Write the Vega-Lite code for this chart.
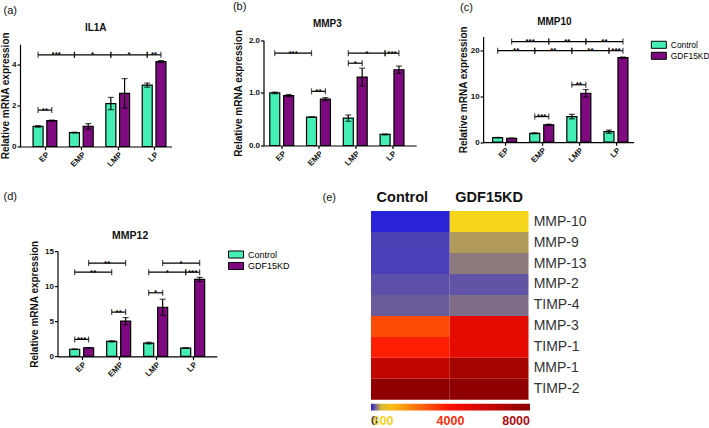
{
  "$schema": "https://vega.github.io/schema/vega-lite/v6.json",
  "padding": {"left": 0, "top": 0.5, "right": 0, "bottom": 0},
  "background": "white",
  "spacing": 20.6,
  "resolve": {"scale": {"color": "independent"}, "legend": {"color": "independent"}},
  "vconcat": [
    {
      "spacing": 60.5,
      "resolve": {"scale": {"color": "independent"}, "legend": {"color": "independent"}},
      "hconcat": [
        {
          "title": {"text": "(a)", "anchor": "start", "frame": "group", "dx": -16.5, "offset": 7.6, "fontSize": 11, "fontWeight": "normal"},
          "resolve": {"scale": {"color": "independent"}, "legend": {"color": "independent"}},
          "vconcat": [
            {
              "title": {"text": "IL1A", "frame": "group", "offset": -1.65},
              "width": 151.5,
              "height": 110,
              "layer": [
                {
                  "data": {"values": [
                    {"group": "EP", "series": "Control", "value": 0.98, "err": 0.04},
                    {"group": "EP", "series": "GDF15KD", "value": 1.26, "err": 0.03},
                    {"group": "EMP", "series": "Control", "value": 0.68, "err": 0.02},
                    {"group": "EMP", "series": "GDF15KD", "value": 0.98, "err": 0.14},
                    {"group": "LMP", "series": "Control", "value": 2.1, "err": 0.3},
                    {"group": "LMP", "series": "GDF15KD", "value": 2.6, "err": 0.72},
                    {"group": "LP", "series": "Control", "value": 3.0, "err": 0.1},
                    {"group": "LP", "series": "GDF15KD", "value": 4.15, "err": 0.05}
                  ]},
                  "transform": [{"calculate": "indexof(['EP','EMP','LMP','LP'], datum.group) * 2.65 + (datum.series === 'GDF15KD' ? 1 : 0)", "as": "p"}],
                  "layer": [
                    {
                      "mark": {"type": "bar", "orient": "vertical", "size": 10, "stroke": "black", "strokeWidth": 1.2},
                      "encoding": {
                        "x": {"field": "p", "type": "quantitative", "scale": {"domain": [-0.952, 9.354], "nice": false, "zero": false},
                          "axis": {"title": null, "values": [0.5, 3.15, 5.8, 8.45], "labelExpr": "datum.value < 1 ? 'EP' : datum.value < 4 ? 'EMP' : datum.value < 6 ? 'LMP' : 'LP'", "labelAngle": -45, "labelFlush": false, "labelOverlap": false, "labelBound": false}},
                        "y": {"field": "value", "type": "quantitative", "scale": {"domain": [0, 5], "range": [110, 7.7], "nice": false},
                          "axis": {"title": "Relative mRNA expression", "values": [0, 1, 2, 3, 4, 5], "titlePadding": 1}},
                        "color": {"field": "series", "type": "nominal", "scale": {"domain": ["Control", "GDF15KD"], "range": ["#44efb5", "#7f0a80"]}, "legend": null}
                      }
                    },
                    {
                      "mark": {"type": "errorbar", "ticks": true, "size": 6, "thickness": 1.2, "color": "black"},
                      "encoding": {
                        "x": {"field": "p", "type": "quantitative", "title": null},
                        "y": {"field": "value", "type": "quantitative", "title": "Relative mRNA expression"},
                        "yError": {"field": "err"}
                      }
                    }
                  ]
                },
                {
                  "data": {"values": [
                    {"from": "EP", "fromSeries": "Control", "to": "EP", "toSeries": "GDF15KD", "y": 1.78, "stars": "**"},
                    {"from": "EP", "fromSeries": "Control", "to": "EMP", "toSeries": "Control", "y": 4.48, "stars": "***"},
                    {"from": "EMP", "fromSeries": "Control", "to": "LMP", "toSeries": "Control", "y": 4.48, "stars": "*"},
                    {"from": "LMP", "fromSeries": "Control", "to": "LP", "toSeries": "Control", "y": 4.48, "stars": "*"},
                    {"from": "LP", "fromSeries": "Control", "to": "LP", "toSeries": "GDF15KD", "y": 4.48, "stars": "**"}
                  ]},
                  "transform": [
                    {"calculate": "indexof(['EP','EMP','LMP','LP'], datum.from) * 2.65 + (datum.fromSeries === 'GDF15KD' ? 1 : 0)", "as": "x1"},
                    {"calculate": "indexof(['EP','EMP','LMP','LP'], datum.to) * 2.65 + (datum.toSeries === 'GDF15KD' ? 1 : 0)", "as": "x2"},
                    {"calculate": "(datum.x1 + datum.x2) / 2", "as": "xm"}
                  ],
                  "layer": [
                    {"mark": {"type": "rule", "strokeWidth": 1.2, "color": "black"}, "encoding": {"x": {"field": "x1", "type": "quantitative"}, "x2": {"field": "x2"}, "y": {"field": "y", "type": "quantitative"}}},
                    {"mark": {"type": "tick", "orient": "vertical", "size": 6, "thickness": 1.2, "color": "black"}, "encoding": {"x": {"field": "x1", "type": "quantitative"}, "y": {"field": "y", "type": "quantitative"}}},
                    {"mark": {"type": "tick", "orient": "vertical", "size": 6, "thickness": 1.2, "color": "black"}, "encoding": {"x": {"field": "x2", "type": "quantitative"}, "y": {"field": "y", "type": "quantitative"}}},
                    {"mark": {"type": "text", "fontSize": 8, "fontWeight": "bold", "baseline": "alphabetic", "dy": 2.5, "color": "black"}, "encoding": {"x": {"field": "xm", "type": "quantitative"}, "y": {"field": "y", "type": "quantitative"}, "text": {"field": "stars"}}}
                  ]
                }
              ]
            }
          ]
        },
        {
          "spacing": 41.6,
          "resolve": {"scale": {"color": "independent"}, "legend": {"color": "independent"}},
          "hconcat": [
            {
              "title": {"text": "(b)", "anchor": "start", "frame": "group", "dx": -30.6, "offset": 6.7, "fontSize": 11, "fontWeight": "normal"},
              "resolve": {"scale": {"color": "independent"}, "legend": {"color": "independent"}},
              "vconcat": [
                {
                  "title": {"text": "MMP3", "frame": "group", "offset": 0.5, "dx": -12.5},
                  "width": 152.7,
                  "height": 109,
                  "layer": [
                    {
                      "data": {"values": [
                        {"group": "EP", "series": "Control", "value": 1.0, "err": 0.015},
                        {"group": "EP", "series": "GDF15KD", "value": 0.95, "err": 0.02},
                        {"group": "EMP", "series": "Control", "value": 0.54, "err": 0.005},
                        {"group": "EMP", "series": "GDF15KD", "value": 0.88, "err": 0.03},
                        {"group": "LMP", "series": "Control", "value": 0.52, "err": 0.06},
                        {"group": "LMP", "series": "GDF15KD", "value": 1.3, "err": 0.17},
                        {"group": "LP", "series": "Control", "value": 0.21, "err": 0.01},
                        {"group": "LP", "series": "GDF15KD", "value": 1.44, "err": 0.07}
                      ]},
                      "transform": [{"calculate": "indexof(['EP','EMP','LMP','LP'], datum.group) * 2.65 + (datum.series === 'GDF15KD' ? 1 : 0)", "as": "p"}],
                      "layer": [
                        {
                          "mark": {"type": "bar", "orient": "vertical", "size": 10, "stroke": "black", "strokeWidth": 1.2},
                          "encoding": {
                            "x": {"field": "p", "type": "quantitative", "scale": {"domain": [-0.451, 9.832], "nice": false, "zero": false},
                              "axis": {"title": null, "values": [0.5, 3.15, 5.8, 8.45], "labelExpr": "datum.value < 1 ? 'EP' : datum.value < 4 ? 'EMP' : datum.value < 6 ? 'LMP' : 'LP'", "labelAngle": -45, "labelFlush": false, "labelOverlap": false, "labelBound": false}},
                            "y": {"field": "value", "type": "quantitative", "scale": {"domain": [0, 2], "range": [109, 3.8], "nice": false},
                              "axis": {"title": "Relative mRNA expression", "values": [0, 0.5, 1, 1.5, 2], "format": ".1f", "titlePadding": 4.5}},
                            "color": {"field": "series", "type": "nominal", "scale": {"domain": ["Control", "GDF15KD"], "range": ["#44efb5", "#7f0a80"]}, "legend": null}
                          }
                        },
                        {
                          "mark": {"type": "errorbar", "ticks": true, "size": 6, "thickness": 1.2, "color": "black"},
                          "encoding": {
                            "x": {"field": "p", "type": "quantitative", "title": null},
                            "y": {"field": "value", "type": "quantitative", "title": "Relative mRNA expression"},
                            "yError": {"field": "err"}
                          }
                        }
                      ]
                    },
                    {
                      "data": {"values": [
                        {"from": "EP", "fromSeries": "Control", "to": "EMP", "toSeries": "Control", "y": 1.755, "stars": "***"},
                        {"from": "EMP", "fromSeries": "Control", "to": "EMP", "toSeries": "GDF15KD", "y": 1.03, "stars": "**"},
                        {"from": "LMP", "fromSeries": "Control", "to": "LMP", "toSeries": "GDF15KD", "y": 1.565, "stars": "*"},
                        {"from": "LMP", "fromSeries": "Control", "to": "LP", "toSeries": "Control", "y": 1.755, "stars": "*"},
                        {"from": "LP", "fromSeries": "Control", "to": "LP", "toSeries": "GDF15KD", "y": 1.755, "stars": "***"}
                      ]},
                      "transform": [
                        {"calculate": "indexof(['EP','EMP','LMP','LP'], datum.from) * 2.65 + (datum.fromSeries === 'GDF15KD' ? 1 : 0)", "as": "x1"},
                        {"calculate": "indexof(['EP','EMP','LMP','LP'], datum.to) * 2.65 + (datum.toSeries === 'GDF15KD' ? 1 : 0)", "as": "x2"},
                        {"calculate": "(datum.x1 + datum.x2) / 2", "as": "xm"}
                      ],
                      "layer": [
                        {"mark": {"type": "rule", "strokeWidth": 1.2, "color": "black"}, "encoding": {"x": {"field": "x1", "type": "quantitative"}, "x2": {"field": "x2"}, "y": {"field": "y", "type": "quantitative"}}},
                        {"mark": {"type": "tick", "orient": "vertical", "size": 6, "thickness": 1.2, "color": "black"}, "encoding": {"x": {"field": "x1", "type": "quantitative"}, "y": {"field": "y", "type": "quantitative"}}},
                        {"mark": {"type": "tick", "orient": "vertical", "size": 6, "thickness": 1.2, "color": "black"}, "encoding": {"x": {"field": "x2", "type": "quantitative"}, "y": {"field": "y", "type": "quantitative"}}},
                        {"mark": {"type": "text", "fontSize": 8, "fontWeight": "bold", "baseline": "alphabetic", "dy": 2.5, "color": "black"}, "encoding": {"x": {"field": "xm", "type": "quantitative"}, "y": {"field": "y", "type": "quantitative"}, "text": {"field": "stars"}}}
                      ]
                    }
                  ]
                }
              ]
            },
            {
              "title": {"text": "(c)", "anchor": "start", "frame": "group", "dx": -23, "offset": 3.7, "fontSize": 11, "fontWeight": "normal"},
              "resolve": {"scale": {"color": "independent"}, "legend": {"color": "independent"}},
              "vconcat": [
                {
                  "title": {"text": "MMP10", "frame": "group", "offset": -1.05, "dx": -4},
                  "width": 150.5,
                  "height": 105.7,
                  "layer": [
                    {
                      "data": {"values": [
                        {"group": "EP", "series": "Control", "value": 1.0, "err": 0.05},
                        {"group": "EP", "series": "GDF15KD", "value": 0.85, "err": 0.05},
                        {"group": "EMP", "series": "Control", "value": 1.95, "err": 0.1},
                        {"group": "EMP", "series": "GDF15KD", "value": 3.8, "err": 0.15},
                        {"group": "LMP", "series": "Control", "value": 5.6, "err": 0.5},
                        {"group": "LMP", "series": "GDF15KD", "value": 10.7, "err": 0.8},
                        {"group": "LP", "series": "Control", "value": 2.3, "err": 0.35},
                        {"group": "LP", "series": "GDF15KD", "value": 18.5, "err": 0.12}
                      ]},
                      "transform": [{"calculate": "indexof(['EP','EMP','LMP','LP'], datum.group) * 2.65 + (datum.series === 'GDF15KD' ? 1 : 0)", "as": "p"}],
                      "layer": [
                        {
                          "mark": {"type": "bar", "orient": "vertical", "size": 10, "stroke": "black", "strokeWidth": 1.2},
                          "encoding": {
                            "x": {"field": "p", "type": "quantitative", "scale": {"domain": [-0.68, 9.353], "nice": false, "zero": false},
                              "axis": {"title": null, "values": [0.5, 3.15, 5.8, 8.45], "labelExpr": "datum.value < 1 ? 'EP' : datum.value < 4 ? 'EMP' : datum.value < 6 ? 'LMP' : 'LP'", "labelAngle": -45, "labelFlush": false, "labelOverlap": false, "labelBound": false}},
                            "y": {"field": "value", "type": "quantitative", "scale": {"domain": [0, 23.1], "range": [105.7, 0], "nice": false},
                              "axis": {"title": "Relative mRNA expression", "values": [0, 5, 10, 15, 20], "titlePadding": 2}},
                            "color": {"field": "series", "type": "nominal", "scale": {"domain": ["Control", "GDF15KD"], "range": ["#44efb5", "#7f0a80"]},
                              "legend": {"orient": "none", "legendX": 171.25, "legendY": 3.8, "title": null, "symbolType": "M-2,-0.94H2V0.94H-2Z", "symbolSize": 56.25, "symbolStrokeColor": "black", "symbolStrokeWidth": 1, "labelFontSize": 8.4, "labelColor": "black", "labelOffset": 7.5, "rowPadding": -3, "padding": 0}}
                          }
                        },
                        {
                          "mark": {"type": "errorbar", "ticks": true, "size": 6, "thickness": 1.2, "color": "black"},
                          "encoding": {
                            "x": {"field": "p", "type": "quantitative", "title": null},
                            "y": {"field": "value", "type": "quantitative", "title": "Relative mRNA expression"},
                            "yError": {"field": "err"}
                          }
                        }
                      ]
                    },
                    {
                      "data": {"values": [
                        {"from": "EP", "fromSeries": "Control", "to": "EMP", "toSeries": "Control", "y": 20, "stars": "**"},
                        {"from": "EMP", "fromSeries": "Control", "to": "LMP", "toSeries": "Control", "y": 20, "stars": "**"},
                        {"from": "LMP", "fromSeries": "Control", "to": "LP", "toSeries": "Control", "y": 20, "stars": "**"},
                        {"from": "LP", "fromSeries": "Control", "to": "LP", "toSeries": "GDF15KD", "y": 20, "stars": "***"},
                        {"from": "EP", "fromSeries": "GDF15KD", "to": "EMP", "toSeries": "GDF15KD", "y": 22, "stars": "***"},
                        {"from": "EMP", "fromSeries": "GDF15KD", "to": "LMP", "toSeries": "GDF15KD", "y": 22, "stars": "**"},
                        {"from": "LMP", "fromSeries": "GDF15KD", "to": "LP", "toSeries": "GDF15KD", "y": 22, "stars": "**"},
                        {"from": "EMP", "fromSeries": "Control", "to": "EMP", "toSeries": "GDF15KD", "y": 5.6, "stars": "***"},
                        {"from": "LMP", "fromSeries": "Control", "to": "LMP", "toSeries": "GDF15KD", "y": 12.55, "stars": "**"}
                      ]},
                      "transform": [
                        {"calculate": "indexof(['EP','EMP','LMP','LP'], datum.from) * 2.65 + (datum.fromSeries === 'GDF15KD' ? 1 : 0)", "as": "x1"},
                        {"calculate": "indexof(['EP','EMP','LMP','LP'], datum.to) * 2.65 + (datum.toSeries === 'GDF15KD' ? 1 : 0)", "as": "x2"},
                        {"calculate": "(datum.x1 + datum.x2) / 2", "as": "xm"}
                      ],
                      "layer": [
                        {"mark": {"type": "rule", "strokeWidth": 1.2, "color": "black"}, "encoding": {"x": {"field": "x1", "type": "quantitative"}, "x2": {"field": "x2"}, "y": {"field": "y", "type": "quantitative"}}},
                        {"mark": {"type": "tick", "orient": "vertical", "size": 6, "thickness": 1.2, "color": "black"}, "encoding": {"x": {"field": "x1", "type": "quantitative"}, "y": {"field": "y", "type": "quantitative"}}},
                        {"mark": {"type": "tick", "orient": "vertical", "size": 6, "thickness": 1.2, "color": "black"}, "encoding": {"x": {"field": "x2", "type": "quantitative"}, "y": {"field": "y", "type": "quantitative"}}},
                        {"mark": {"type": "text", "fontSize": 8, "fontWeight": "bold", "baseline": "alphabetic", "dy": 2.5, "color": "black"}, "encoding": {"x": {"field": "xm", "type": "quantitative"}, "y": {"field": "y", "type": "quantitative"}, "text": {"field": "stars"}}}
                      ]
                    }
                  ]
                }
              ]
            }
          ]
        }
      ]
    },
    {
      "spacing": 31,
      "resolve": {"scale": {"color": "independent"}, "legend": {"color": "independent"}},
      "hconcat": [
        {
          "title": {"text": "(d)", "anchor": "start", "frame": "group", "dx": -16.5, "offset": 8.8, "fontSize": 11, "fontWeight": "normal"},
          "resolve": {"scale": {"color": "independent"}, "legend": {"color": "independent"}},
          "vconcat": [
            {
              "title": {"text": "MMP12", "frame": "group", "offset": -30.3, "dx": 11.8, "fontSize": 10.5},
              "width": 196.8,
              "height": 145.3,
              "layer": [
                {
                  "data": {"values": [
                    {"group": "EP", "series": "Control", "value": 1.02, "err": 0.03},
                    {"group": "EP", "series": "GDF15KD", "value": 1.23, "err": 0.03},
                    {"group": "EMP", "series": "Control", "value": 2.14, "err": 0.08},
                    {"group": "EMP", "series": "GDF15KD", "value": 5.03, "err": 0.5},
                    {"group": "LMP", "series": "Control", "value": 1.9, "err": 0.12},
                    {"group": "LMP", "series": "GDF15KD", "value": 7.0, "err": 1.15},
                    {"group": "LP", "series": "Control", "value": 1.19, "err": 0.03},
                    {"group": "LP", "series": "GDF15KD", "value": 10.96, "err": 0.3}
                  ]},
                  "transform": [{"calculate": "indexof(['EP','EMP','LMP','LP'], datum.group) * 2.65 + (datum.series === 'GDF15KD' ? 1 : 0)", "as": "p"}],
                  "layer": [
                    {
                      "mark": {"type": "bar", "orient": "vertical", "size": 10, "stroke": "black", "strokeWidth": 1.2},
                      "encoding": {
                        "x": {"field": "p", "type": "quantitative", "scale": {"domain": [-0.872, 9.819], "range": [37.5, 196.8], "nice": false, "zero": false},
                          "axis": {"title": null, "values": [0.5, 3.15, 5.8, 8.45], "labelExpr": "datum.value < 1 ? 'EP' : datum.value < 4 ? 'EMP' : datum.value < 6 ? 'LMP' : 'LP'", "labelAngle": -45, "labelFlush": false, "labelOverlap": false, "labelBound": false}},
                        "y": {"field": "value", "type": "quantitative", "scale": {"domain": [0, 15], "range": [145.3, 40], "nice": false},
                          "axis": {"title": "Relative mRNA expression", "values": [0, 5, 10, 15], "titlePadding": 5, "offset": -37.5}},
                        "color": {"field": "series", "type": "nominal", "scale": {"domain": ["Control", "GDF15KD"], "range": ["#44efb5", "#7f0a80"]},
                          "legend": {"orient": "none", "legendX": 211.55, "legendY": 38.9, "title": null, "symbolType": "M-2,-0.94H2V0.94H-2Z", "symbolSize": 56.25, "symbolStrokeColor": "black", "symbolStrokeWidth": 1, "labelFontSize": 9, "labelColor": "black", "labelOffset": 7.5, "rowPadding": -1.5, "padding": 0}}
                      }
                    },
                    {
                      "mark": {"type": "errorbar", "ticks": true, "size": 6, "thickness": 1.2, "color": "black"},
                      "encoding": {
                        "x": {"field": "p", "type": "quantitative", "title": null},
                        "y": {"field": "value", "type": "quantitative", "title": "Relative mRNA expression"},
                        "yError": {"field": "err"}
                      }
                    }
                  ]
                },
                {
                  "data": {"values": [
                    {"from": "EP", "fromSeries": "Control", "to": "EP", "toSeries": "GDF15KD", "y": 2.42, "stars": "***"},
                    {"from": "EMP", "fromSeries": "Control", "to": "EMP", "toSeries": "GDF15KD", "y": 6.31, "stars": "**"},
                    {"from": "LMP", "fromSeries": "Control", "to": "LMP", "toSeries": "GDF15KD", "y": 9.06, "stars": "*"},
                    {"from": "EP", "fromSeries": "Control", "to": "EMP", "toSeries": "Control", "y": 12.0, "stars": "**"},
                    {"from": "EP", "fromSeries": "GDF15KD", "to": "EMP", "toSeries": "GDF15KD", "y": 13.29, "stars": "**"},
                    {"from": "LMP", "fromSeries": "Control", "to": "LP", "toSeries": "Control", "y": 12.0, "stars": "*"},
                    {"from": "LP", "fromSeries": "Control", "to": "LP", "toSeries": "GDF15KD", "y": 12.0, "stars": "***"},
                    {"from": "LMP", "fromSeries": "GDF15KD", "to": "LP", "toSeries": "GDF15KD", "y": 13.29, "stars": "*"}
                  ]},
                  "transform": [
                    {"calculate": "indexof(['EP','EMP','LMP','LP'], datum.from) * 2.65 + (datum.fromSeries === 'GDF15KD' ? 1 : 0)", "as": "x1"},
                    {"calculate": "indexof(['EP','EMP','LMP','LP'], datum.to) * 2.65 + (datum.toSeries === 'GDF15KD' ? 1 : 0)", "as": "x2"},
                    {"calculate": "(datum.x1 + datum.x2) / 2", "as": "xm"}
                  ],
                  "layer": [
                    {"mark": {"type": "rule", "strokeWidth": 1.2, "color": "black"}, "encoding": {"x": {"field": "x1", "type": "quantitative"}, "x2": {"field": "x2"}, "y": {"field": "y", "type": "quantitative"}}},
                    {"mark": {"type": "tick", "orient": "vertical", "size": 6, "thickness": 1.2, "color": "black"}, "encoding": {"x": {"field": "x1", "type": "quantitative"}, "y": {"field": "y", "type": "quantitative"}}},
                    {"mark": {"type": "tick", "orient": "vertical", "size": 6, "thickness": 1.2, "color": "black"}, "encoding": {"x": {"field": "x2", "type": "quantitative"}, "y": {"field": "y", "type": "quantitative"}}},
                    {"mark": {"type": "text", "fontSize": 8, "fontWeight": "bold", "baseline": "alphabetic", "dy": 2.5, "color": "black"}, "encoding": {"x": {"field": "xm", "type": "quantitative"}, "y": {"field": "y", "type": "quantitative"}, "text": {"field": "stars"}}}
                  ]
                }
              ]
            }
          ]
        },
        {
          "title": {"text": "(e)", "anchor": "start", "frame": "group", "dx": -48.5, "offset": -13, "fontSize": 11, "fontWeight": "normal"},
          "resolve": {"scale": {"color": "independent"}, "legend": {"color": "independent"}},
          "vconcat": [
            {
              "width": 157.5,
              "height": 188.7,
              "data": {"values": [
                {"gene": "MMP-10", "group": "Control", "value": 18},
                {"gene": "MMP-9", "group": "Control", "value": 115},
                {"gene": "MMP-13", "group": "Control", "value": 112},
                {"gene": "MMP-2", "group": "Control", "value": 160},
                {"gene": "TIMP-4", "group": "Control", "value": 200},
                {"gene": "MMP-3", "group": "Control", "value": 2980},
                {"gene": "TIMP-1", "group": "Control", "value": 3700},
                {"gene": "MMP-1", "group": "Control", "value": 6100},
                {"gene": "TIMP-2", "group": "Control", "value": 7750},
                {"gene": "MMP-10", "group": "GDF15KD", "value": 595},
                {"gene": "MMP-9", "group": "GDF15KD", "value": 400},
                {"gene": "MMP-13", "group": "GDF15KD", "value": 295},
                {"gene": "MMP-2", "group": "GDF15KD", "value": 175},
                {"gene": "TIMP-4", "group": "GDF15KD", "value": 255},
                {"gene": "MMP-3", "group": "GDF15KD", "value": 4950},
                {"gene": "TIMP-1", "group": "GDF15KD", "value": 4900},
                {"gene": "MMP-1", "group": "GDF15KD", "value": 7050},
                {"gene": "TIMP-2", "group": "GDF15KD", "value": 7780}
              ]},
              "mark": {"type": "rect"},
              "encoding": {
                "x": {"field": "group", "type": "nominal", "scale": {"domain": ["Control", "GDF15KD"], "paddingInner": 0, "paddingOuter": 0},
                  "axis": {"orient": "top", "title": null, "labelAngle": 0, "domain": false, "ticks": false, "labelFontSize": 14.5, "labelFontWeight": "bold", "labelColor": "#111", "labelPadding": 6.3, "labelOffset": {"condition": {"test": "datum.value === 'Control'", "value": -8}, "value": 0}}},
                "y": {"field": "gene", "type": "nominal", "sort": ["MMP-10", "MMP-9", "MMP-13", "MMP-2", "TIMP-4", "MMP-3", "TIMP-1", "MMP-1", "TIMP-2"], "scale": {"paddingInner": 0, "paddingOuter": 0},
                  "axis": {"orient": "right", "title": null, "domain": false, "ticks": false, "labelFontSize": 14, "labelFontWeight": "normal", "labelColor": "#333", "labelPadding": 4.7}},
                "color": {"field": "value", "type": "quantitative",
                  "scale": {"domain": [0, 600, 4000, 8000], "range": ["#231ddd", "#f8d818", "#ff0d00", "#880000"], "interpolate": "rgb"},
                  "legend": {"orient": "none", "legendX": 0, "legendY": 192.7, "direction": "horizontal", "title": null, "gradientLength": 159, "gradientThickness": 6.6, "gradientStrokeWidth": 0, "values": [0, 600, 4000, 8000], "format": "d", "labelFontSize": 12.5, "labelFontWeight": "bold", "labelOverlap": false, "labelOffset": 5, "padding": 0,
                    "labelAlign": "left",
                    "labelColor": {"expr": "datum.value === 0 ? '#1b2a7f' : datum.value === 600 ? '#f2d21c' : datum.value === 4000 ? '#f2300c' : '#a80f0f'"}}}
              }
            }
          ]
        }
      ]
    }
  ],
  "config": {
    "font": "Liberation Sans",
    "view": {"stroke": null},
    "axis": {"grid": false, "domainColor": "black", "domainWidth": 1.2, "tickColor": "black", "tickWidth": 1.2, "tickSize": 3, "labelFontSize": 8, "labelFontWeight": "bold", "labelColor": "#111", "labelPadding": 1, "titleFontSize": 10, "titleFontWeight": "bold", "titleColor": "#111"},
    "title": {"fontSize": 10, "fontWeight": "bold", "color": "#111", "baseline": "bottom"},
    "legend": {"labelFont": "Liberation Sans"}
  }
}
